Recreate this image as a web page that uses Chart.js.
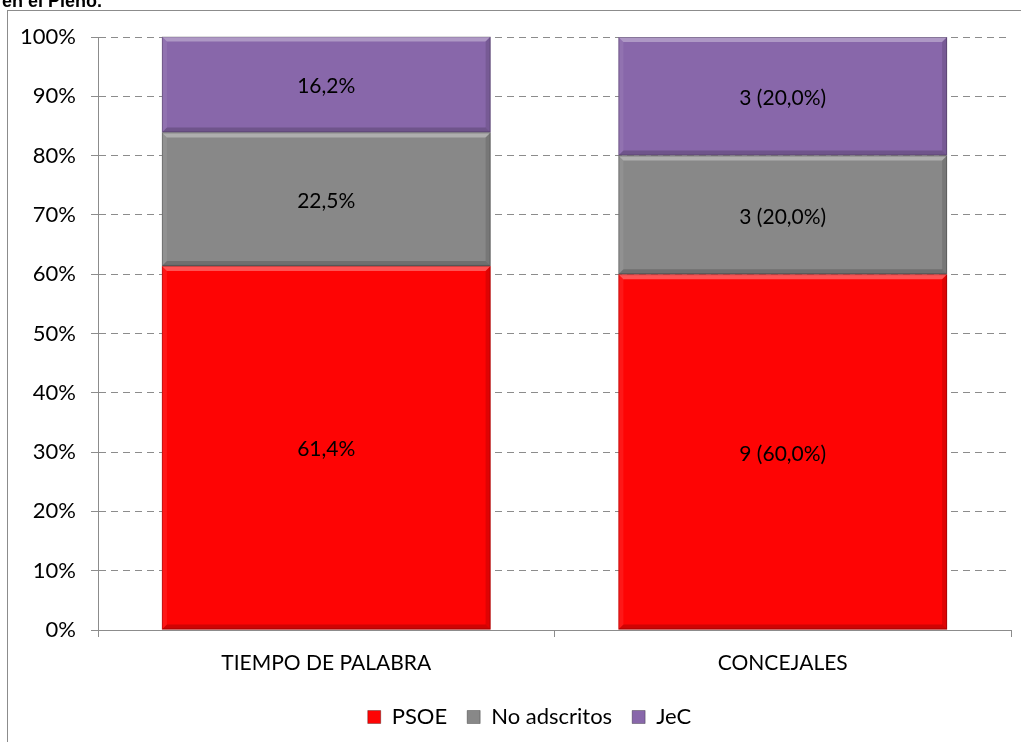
<!DOCTYPE html>
<html>
<head>
<meta charset="utf-8">
<script src="https://cdn.jsdelivr.net/npm/chart.js@4"></script>
<style>
html,body{margin:0;padding:0;background:#fff;overflow:hidden;}
#wrap{position:relative;width:1021px;height:742px;}
</style>
</head>
<body>
<div id="wrap"><canvas id="c" width="1021" height="742"></canvas></div>
<script>
const categories = ["TIEMPO DE PALABRA", "CONCEJALES"];
const seriesNames = ["PSOE", "No adscritos", "JeC"];
const psoe = [61.4, 60.0];
const noAdscritos = [22.5, 20.0];
const jec = [16.2, 20.0];
const concejalesCount = { PSOE: 9, "No adscritos": 3, JeC: 3 };
const yTicks = [0, 10, 20, 30, 40, 50, 60, 70, 80, 90, 100];
const titleText = "en el Pleno.";

const FONT = "Lato, 'Liberation Sans', sans-serif";
const colors = ["#fe0404", "#888888", "#8867aa"];

function fmt(v){ return v.toFixed(1).replace('.', ','); }

const framePlugin = {
  id: 'frame',
  beforeDraw(chart){
    const ctx = chart.ctx;
    ctx.save();
    ctx.fillStyle = '#fff';
    ctx.fillRect(0,0,chart.width,chart.height);
    ctx.strokeStyle = '#8c8c8c';
    ctx.lineWidth = 1;
    ctx.strokeRect(7.5, 10.5, chart.width + 10, chart.height + 10);
    ctx.fillStyle = '#000';
    ctx.font = "bold 18px 'Liberation Sans', Arial, sans-serif";
    ctx.textBaseline = 'alphabetic';
    ctx.fillText(titleText, 2, 7);
    ctx.restore();
  }
};

const legendShift = {
  id: 'legendShift',
  afterLayout(chart){
    const lg = chart.legend;
    if (lg) { lg.left += 24; lg.right += 24; }
  }
};

const bevelPlugin = {
  id: 'bevel',
  afterDatasetsDraw(chart){
    const ctx = chart.ctx;
    ctx.save();
    chart.data.datasets.forEach((ds, di) => {
      const meta = chart.getDatasetMeta(di);
      meta.data.forEach((bar, i) => {
        const p = bar.getProps(['x','y','base','width'], true);
        const l = p.x - p.width/2, r = p.x + p.width/2;
        const t = Math.min(p.y, p.base), b = Math.max(p.y, p.base);
        const e = 5;
        ctx.fillStyle = 'rgba(255,255,255,0.32)';
        ctx.beginPath(); ctx.moveTo(l,t); ctx.lineTo(r,t); ctx.lineTo(r-e,t+e); ctx.lineTo(l+e,t+e); ctx.closePath(); ctx.fill();
        ctx.fillStyle = 'rgba(255,255,255,0.08)';
        ctx.beginPath(); ctx.moveTo(l,t); ctx.lineTo(l+e,t+e); ctx.lineTo(l+e,b-e); ctx.lineTo(l,b); ctx.closePath(); ctx.fill();
        ctx.fillStyle = 'rgba(0,0,0,0.12)';
        ctx.beginPath(); ctx.moveTo(r,t); ctx.lineTo(r-e,t+e); ctx.lineTo(r-e,b-e); ctx.lineTo(r,b); ctx.closePath(); ctx.fill();
        ctx.fillStyle = 'rgba(0,0,0,0.18)';
        ctx.beginPath(); ctx.moveTo(l,b); ctx.lineTo(r,b); ctx.lineTo(r-e,b-e); ctx.lineTo(l+e,b-e); ctx.closePath(); ctx.fill();
        ctx.strokeStyle = 'rgba(0,0,0,0.22)';
        ctx.lineWidth = 1;
        ctx.strokeRect(l+0.5, t+0.5, r-l-1, b-t-1);
      });
    });
    ctx.restore();
  }
};

const labelPlugin = {
  id: 'vlabels',
  afterDatasetsDraw(chart){
    const ctx = chart.ctx;
    ctx.save();
    ctx.font = "21px " + FONT;
    ctx.fillStyle = '#000';
    ctx.textAlign = 'center';
    ctx.textBaseline = 'middle';
    chart.data.datasets.forEach((ds, di) => {
      const meta = chart.getDatasetMeta(di);
      meta.data.forEach((bar, i) => {
        const p = bar.getProps(['x','y','base'], true);
        const v = ds.data[i];
        let txt = fmt(v) + '%';
        if (i === 1) txt = concejalesCount[ds.label] + ' (' + fmt(v) + '%)';
        ctx.fillText(txt, p.x, (p.y + p.base)/2 + 2);
      });
    });
    ctx.restore();
  }
};

const datasets = [psoe, noAdscritos, jec].map((d, k) => ({
  label: seriesNames[k],
  data: d,
  backgroundColor: colors[k],
  borderWidth: 0,
  categoryPercentage: 0.72,
  barPercentage: 1.0
}));

new Chart(document.getElementById('c'), {
  type: 'bar',
  data: { labels: categories, datasets },
  plugins: [framePlugin, legendShift, bevelPlugin, labelPlugin],
  options: {
    responsive: false,
    animation: false,
    layout: { padding: { left: 0, right: 10, top: 37, bottom: 4 } },
    plugins: {
      title: { display: false },
      tooltip: { enabled: false },
      legend: {
        position: 'bottom',
        labels: {
          font: { family: FONT, size: 22 },
          color: '#000',
          boxWidth: 13, boxHeight: 13,
          padding: 20,
          generateLabels(chart){
            return chart.data.datasets.map((ds, i) => ({
              text: ds.label, fillStyle: ds.backgroundColor, strokeStyle: 'rgba(0,0,0,0.3)', lineWidth: 1, datasetIndex: i, hidden: false
            }));
          }
        }
      }
    },
    scales: {
      x: {
        stacked: true,
        offset: true,
        grid: { display: true, drawOnChartArea: false, drawTicks: true, tickLength: 7, offset: true, color: '#8c8c8c' },
        border: { display: true, color: '#8c8c8c', width: 1 },
        ticks: { font: { family: FONT, size: 21 }, color: '#000', padding: 14, maxRotation: 0 },
        afterFit(s){ s.height = 56; }
      },
      y: {
        stacked: true,
        min: 0, max: 100,
        afterBuildTicks(s){ s.ticks = yTicks.map(v => ({ value: v })); },
        grid: { color: '#8c8c8c', tickLength: 7, drawTicks: true, lineWidth: 1 },
        border: { display: true, color: '#8c8c8c', dash: [7, 5] },
        ticks: { font: { family: FONT, size: 22 }, color: '#000', padding: 15, callback: v => v + '%' },
        afterFit(s){ s.width = 98; }
      }
    }
  }
});
</script>
</body>
</html>
